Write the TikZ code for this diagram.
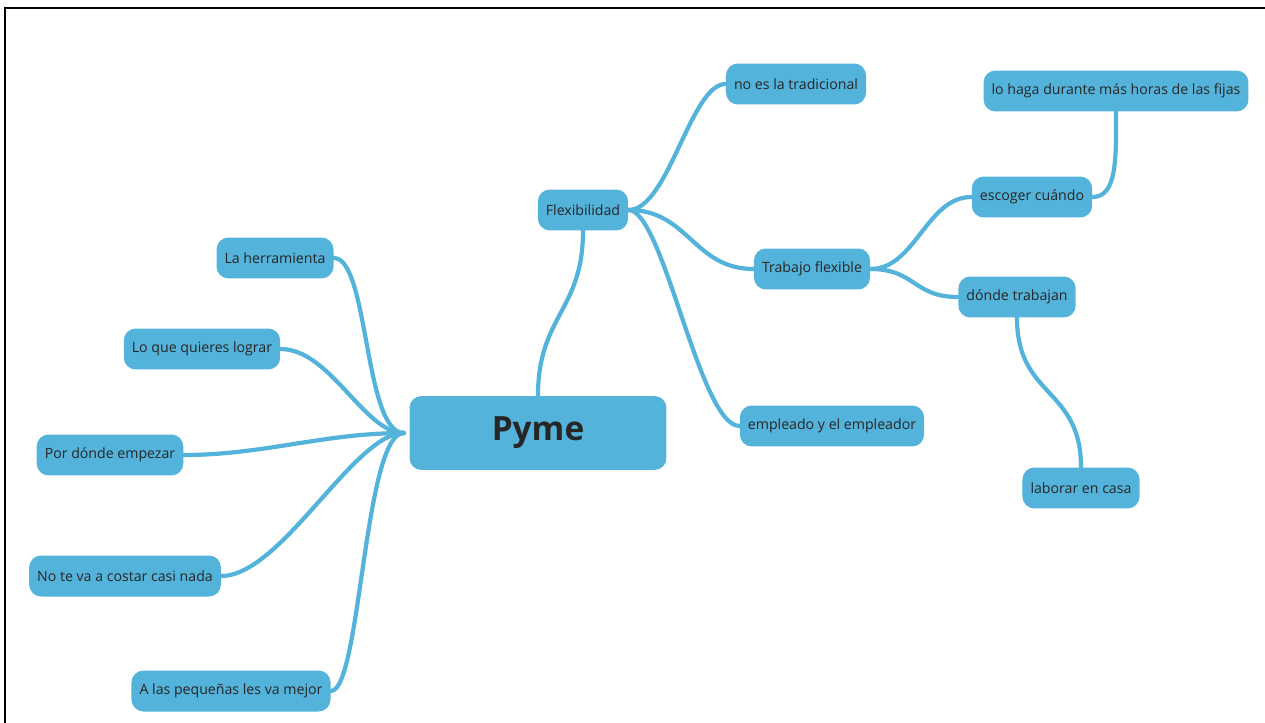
\documentclass[tikz,border=0pt]{standalone}
\usepackage{fontspec}
\setmainfont{Open Sans}
\definecolor{mapblue}{RGB}{84,179,218}
\tikzset{
	idea/.style={fill=mapblue, rounded corners=0.24cm, minimum height=0.82cm, inner xsep=4.6pt, text=black!85, font=\fontsize{8.05}{10}\selectfont},
	centre/.style={idea, minimum width=5.14cm, minimum height=1.48cm, font=\fontsize{19}{22}\selectfont\bfseries},
	branch/.style={draw=mapblue, line width=2.4pt, line cap=round}
}

\begin{document}
\begin{tikzpicture}[x=0.02cm, y=-0.02cm]
		\useasboundingbox (0, 0) rectangle (1265, 723);
		\draw [line width=1.4pt] (5, 723) -- (5, 8) -- (1265, 8); % Ramen
		
		\node [centre] (pyme) at (538, 433) {Pyme}; % Huvudidén
		\node [idea] (flex) at (583, 210) {Flexibilidad};
		\node [idea] (notrad) at (796, 84) {no es la tradicional};
		\node [idea] (trabajo) at (812, 269) {Trabajo flexible};
		\node [idea] (empleado) at (832, 426) {empleado y el empleador};
		\node [idea] (escoger) at (1032, 197) {escoger cuándo};
		\node [idea] (lohaga) at (1116, 91) {lo haga durante más horas de las fijas};
		\node [idea] (donde) at (1017, 297) {dónde trabajan};
		\node [idea] (laborar) at (1081, 488) {laborar en casa};
		
		\node [idea] (herr) at (275, 258) {La herramienta}; % Vänstra grenarna
		\node [idea] (lograr) at (202, 349) {Lo que quieres lograr};
		\node [idea] (empezar) at (110, 455) {Por dónde empezar};
		\node [idea] (costar) at (125, 576) {No te va a costar casi nada};
		\node [idea] (pequenas) at (231, 691) {A las pequeñas les va mejor};
		
		\draw [branch] (pyme.north) .. controls +(0, -80) and +(0, 80) .. (flex.south); % Grenarna
		\draw [branch] (herr.east) .. controls +(35, 0) and +(-40, 0) .. ([xshift=-3pt]pyme.west);
		\draw [branch] (lograr.east) .. controls +(50, 0) and +(-40, 0) .. ([xshift=-3pt]pyme.west);
		\draw [branch] (empezar.east) .. controls +(80, 0) and +(-80, 0) .. ([xshift=-3pt]pyme.west);
		\draw [branch] (costar.east) .. controls +(60, 0) and +(-50, 0) .. ([xshift=-3pt]pyme.west);
		\draw [branch] (pequenas.east) .. controls +(30, 0) and +(-40, 0) .. ([xshift=-3pt]pyme.west);
		
		\draw [branch] (flex.east) .. controls +(40, 0) and +(-35, 0) .. (notrad.west);
		\draw [branch] (flex.east) .. controls +(60, 0) and +(-60, 0) .. (trabajo.west);
		\draw [branch] (flex.east) .. controls +(35, 0) and +(-40, 0) .. (empleado.west);
		\draw [branch] (trabajo.east) .. controls +(45, 0) and +(-45, 0) .. (escoger.west);
		\draw [branch] (trabajo.east) .. controls +(45, 0) and +(-45, 0) .. (donde.west);
		\draw [branch] (escoger.east) .. controls +(25, 0) and +(0, 45) .. (lohaga.south);
		\draw [branch] (donde.south) .. controls +(0, 80) and +(0, -80) .. (laborar.north);
	\end{tikzpicture}
\end{document}
